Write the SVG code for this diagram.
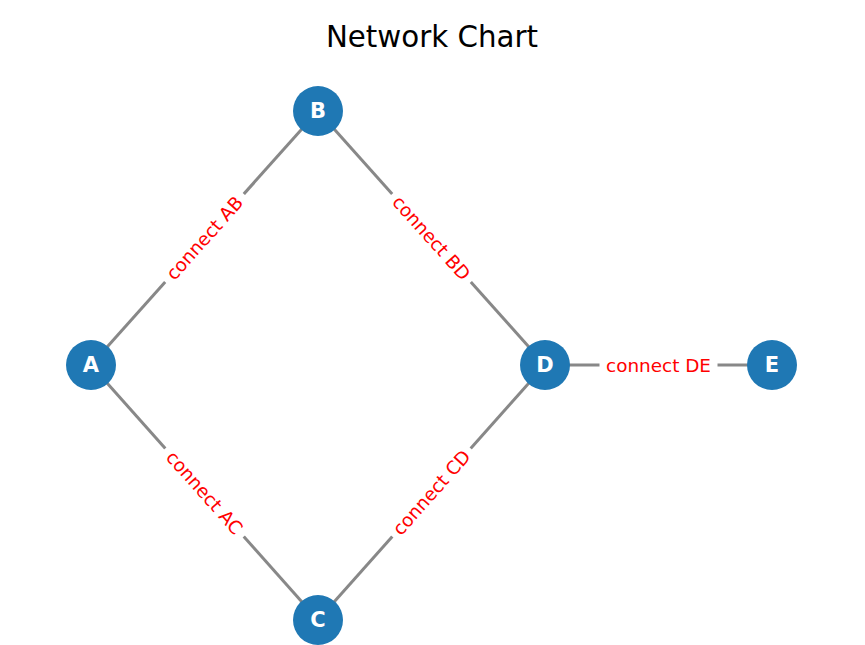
<svg xmlns="http://www.w3.org/2000/svg" width="865" height="645" viewBox="0 0 865 645">
<style>
.edge{stroke:#888888;stroke-width:3;fill:none}
.node{fill:#1f78b4}
.nlab{font-family:"DejaVu Sans",sans-serif;font-size:21px;font-weight:bold;fill:#ffffff;text-anchor:middle;dominant-baseline:central}
.elab{font-family:"DejaVu Sans",sans-serif;font-size:18.4px;fill:#ff0000;text-anchor:middle;dominant-baseline:central}
.lbg{fill:#ffffff}
.title{font-family:"DejaVu Sans",sans-serif;font-size:29.3px;fill:#000000;text-anchor:middle}
</style>
<rect width="865" height="645" fill="#ffffff"/>
<text class="title" x="432" y="47">Network Chart</text>
<g id="connectors">
<line class="edge" x1="91" y1="365" x2="318" y2="111"/>
<line class="edge" x1="318" y1="111" x2="545" y2="365"/>
<line class="edge" x1="91" y1="365" x2="318" y2="620"/>
<line class="edge" x1="318" y1="620" x2="545" y2="365"/>
<line class="edge" x1="545" y1="365" x2="772" y2="365"/>
<g transform="translate(204.5,238) rotate(-48.2)">
<rect class="lbg" x="-59" y="-12" width="118" height="24" rx="4"/>
<text class="elab" x="0" y="0">connect AB</text>
</g>
<g transform="translate(431.5,238) rotate(48.2)">
<rect class="lbg" x="-59" y="-12" width="118" height="24" rx="4"/>
<text class="elab" x="0" y="0">connect BD</text>
</g>
<g transform="translate(204.5,492.5) rotate(48.3)">
<rect class="lbg" x="-59" y="-12" width="118" height="24" rx="4"/>
<text class="elab" x="0" y="0">connect AC</text>
</g>
<g transform="translate(431.5,492.5) rotate(-48.3)">
<rect class="lbg" x="-59" y="-12" width="118" height="24" rx="4"/>
<text class="elab" x="0" y="0">connect CD</text>
</g>
<g transform="translate(658.5,365)">
<rect class="lbg" x="-59" y="-12" width="118" height="24" rx="4"/>
<text class="elab" x="0" y="0">connect DE</text>
</g>
</g>
<g id="node-A"><circle class="node" cx="91" cy="365" r="25"/><text class="nlab" x="91" y="365">A</text></g>
<g id="node-B"><circle class="node" cx="318" cy="111" r="25"/><text class="nlab" x="318" y="111">B</text></g>
<g id="node-C"><circle class="node" cx="318" cy="620" r="25"/><text class="nlab" x="318" y="620">C</text></g>
<g id="node-D"><circle class="node" cx="545" cy="365" r="25"/><text class="nlab" x="545" y="365">D</text></g>
<g id="node-E"><circle class="node" cx="772" cy="365" r="25"/><text class="nlab" x="772" y="365">E</text></g>
</svg>
